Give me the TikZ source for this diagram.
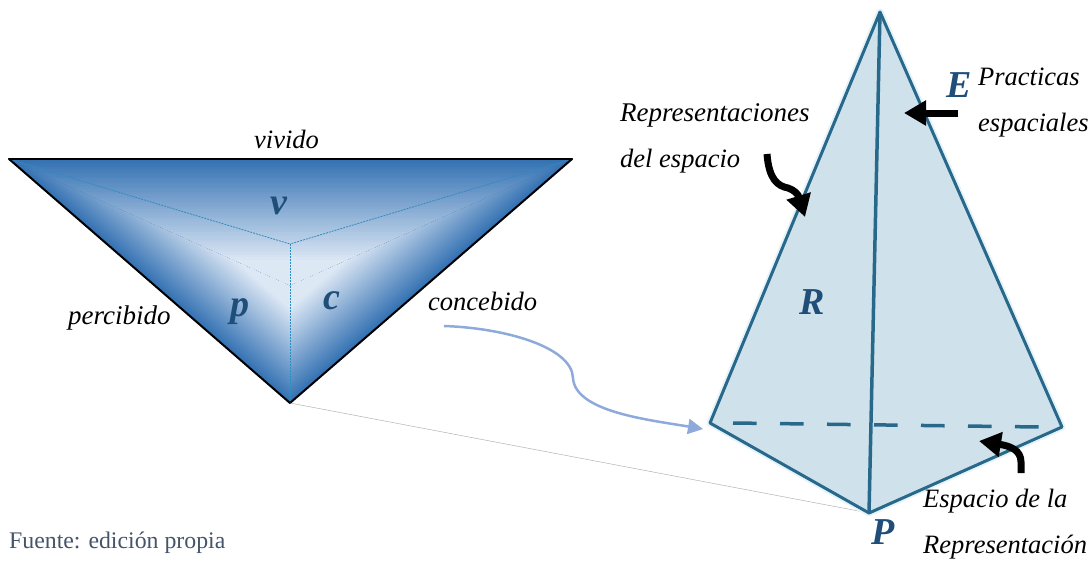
\documentclass[tikz,border=0pt]{standalone}
\usepackage{fontspec}
\setmainfont{Liberation Serif}
\usetikzlibrary{arrows.meta}
\definecolor{bevdark}{HTML}{3572B3}
\definecolor{bevlight}{HTML}{DDE8F5}
\definecolor{letterblue}{HTML}{1F4E79}
\definecolor{pyredge}{HTML}{28688A}
\definecolor{pyrfill}{HTML}{CFE2EC}
\definecolor{pyrglow}{HTML}{E6F4FA}
\definecolor{curveblue}{HTML}{8EAADB}
\definecolor{fuente}{HTML}{44546A}
\tikzset{
  lbl/.style={inner sep=0pt,anchor=base west,font=\itshape\fontsize{26.5}{26.5}\selectfont,text=black},
  lblw/.style={lbl,font=\itshape\fontsize{27}{27}\selectfont},
  letter/.style={inner sep=0pt,anchor=base,font=\bfseries\itshape\fontsize{38}{38}\selectfont,text=letterblue},
  edgeblack/.style={draw=black,line width=2pt,line cap=round},
  bevelline/.style={draw=bevdark!80!cyan,line width=.8pt,dash pattern=on 2pt off 1pt},
  pyredgeline/.style={draw=pyredge,line width=3pt,line join=round},
  blackarrow/.style={draw=black,line width=7pt,-{Triangle[length=22pt,width=24pt]}},
}
\begin{document}
\begin{tikzpicture}[x=1pt,y=-1pt]
\useasboundingbox (0,0) rectangle (1091,560);
% coordinates of the inverted pyramid
\coordinate (tl) at (9,159);
\coordinate (tr) at (572,159);
\coordinate (tm) at (290,244);
\coordinate (tb) at (290,403);
\coordinate (fc) at (290,285);
% coordinates of the pyramid
\coordinate (apex) at (880,12);
\coordinate (pl) at (710,423);
\coordinate (pr) at (1062,427);
\coordinate (pb) at (869,513);
\coordinate (dl) at (733,423);
\coordinate (dr) at (1040,427);
% faces: gradient towards a light centre
\begin{scope}
  \clip (tl) -- (tr) -- (tb) -- cycle;
  \begin{scope}
    \clip (9,155) -- (292,281) -- (292,405) -- (5,405) -- (5,155) -- cycle;
    \begin{scope}[shift={(9,159)},x={(.755pt,-.656pt)},y={(.656pt,.755pt)}]
    \foreach \u in {0,2,...,100}{
      \pgfmathsetmacro\t{min(100,\u/80*100)}
      \fill[color={bevlight!\t!bevdark}] (-100,\u*.89) -- (600,\u*.89) -- (600,200) -- (-100,200) -- cycle;
    }
    \end{scope}
  \end{scope}
  \begin{scope}
    \clip (572,155) -- (290,281) -- (290,405) -- (576,405) -- (576,155) -- cycle;
    \begin{scope}[shift={(572,159)},x={(-.756pt,-.654pt)},y={(-.654pt,.756pt)}]
    \foreach \u in {0,2,...,100}{
      \pgfmathsetmacro\t{min(100,\u/80*100)}
      \fill[color={bevlight!\t!bevdark}] (-100,\u*.89) -- (600,\u*.89) -- (600,200) -- (-100,200) -- cycle;
    }
    \end{scope}
  \end{scope}
  \begin{scope}
    \clip (tl) -- (tr) -- (fc) -- cycle;
    \foreach \u in {0,2,...,100}{
      \pgfmathsetmacro\t{min(100,\u/80*100)}
      \fill[color={bevlight!\t!bevdark}] (0,159+\u*1.26) rectangle (600,300);
    }
  \end{scope}
\end{scope}
\draw[bevelline] (tl) -- (tm);
\draw[bevelline] (tr) -- (tm);
\draw[bevelline] (tm) -- (tb);
\draw[edgeblack] (tl) -- (tr);
\draw[edgeblack] (tl) -- (tb);
\draw[edgeblack] (tr) -- (tb);
% thin connector
\draw[draw=black!30,line width=.5pt] (tb) -- (pb);
% pyramid
\draw[pyrglow,line width=7pt,line join=round] (apex) -- (pl) -- (pb) -- (pr) -- cycle;
\fill[pyrfill] (apex) -- (pl) -- (pb) -- (pr) -- cycle;
\draw[pyredgeline] (apex) -- (pl) -- (pb) -- (pr) -- cycle;
\draw[pyredgeline,line width=3.5pt] (apex) -- (pb);
\draw[draw=pyredge,line width=3.5pt,dash pattern=on 23.7pt off 23.3pt] (dl) -- (dr);
% labels
\node[lbl] (vivido) at (254,148) {vivido};
\node[lblw] (percibido) at (68,324) {percibido};
\node[lbl] (concebido) at (428,310) {concebido};
\node[lblw] (repr) at (620,121) {Representaciones};
\node[lbl] (dele) at (620,167) {del espacio};
\node[lbl] (prac) at (978,85) {Practicas};
\node[lbl] (espa) at (978,131) {espaciales};
\node[lbl] (espd) at (923,507) {Espacio de la};
\node[lbl] (repn) at (923,553) {Representación};
\node[letter] (lv) at (279,214) {v};
\node[letter] (lp) at (240,316) {p};
\node[letter] (lc) at (332,309) {c};
\node[letter] (lR) at (812,314) {R};
\node[letter] (lE) at (959,97) {E};
\node[letter] (lP) at (883,544) {P};
\node[inner sep=0pt,anchor=base west,font=\fontsize{23.8}{23.8}\selectfont,text=fuente] (src) at (9,548) {Fuente: edición propia};
% blue curve
\coordinate (bs) at (444,326);
\coordinate (bm) at (573,378);
\coordinate (be) at (703,429);
\draw[draw=curveblue,line width=2.5pt,-{Triangle[length=15pt,width=15pt]}]
  (bs) .. controls (505,328) and (572,347) .. (bm) .. controls (575,412) and (650,420) .. (be);
% black arrows
\coordinate (a1s) at (958,113);
\coordinate (a1e) at (904,113);
\draw[blackarrow] (a1s) -- (a1e);
\coordinate (a2s) at (767,154);
\coordinate (a2e) at (805,217);
\draw[blackarrow] (a2s) .. controls (769,180) and (778,186) .. (788,188) .. controls (794,190) and (798,194) .. (a2e);
\coordinate (a3s) at (1021,473);
\coordinate (a3e) at (979,441);
\draw[blackarrow] (a3s) -- (1021,462) .. controls (1021,450) and (1010,446) .. (a3e);
\end{tikzpicture}
\end{document}
